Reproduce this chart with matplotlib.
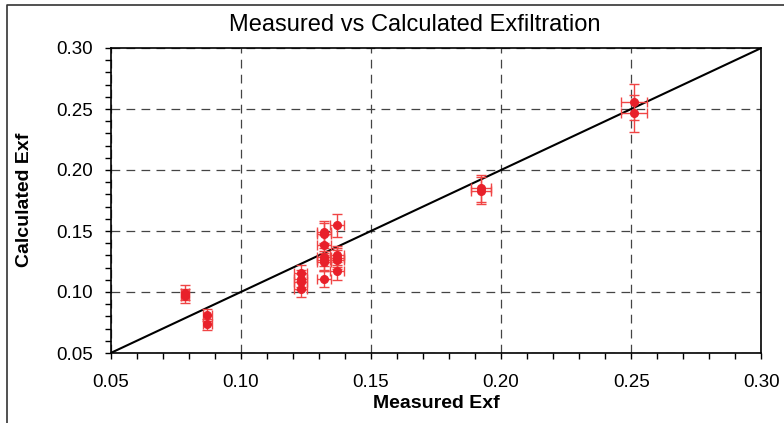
import matplotlib
matplotlib.use("Agg")
import matplotlib.pyplot as plt
from matplotlib.lines import Line2D
from matplotlib.ticker import MultipleLocator, FormatStrFormatter

plt.rcParams['font.family'] = ['Liberation Sans', 'DejaVu Sans']

# Data
measured = [0.0786, 0.0786, 0.0871, 0.0871,
            0.1231, 0.1231, 0.1231, 0.1231,
            0.1320, 0.1320, 0.1320, 0.1320, 0.1320, 0.1320, 0.1320,
            0.1369, 0.1369, 0.1369, 0.1369, 0.1369,
            0.1922, 0.1922,
            0.2511, 0.2511]
calculated = [0.0995, 0.0965, 0.0810, 0.0735,
              0.1155, 0.1110, 0.1080, 0.1025,
              0.1492, 0.1479, 0.1383, 0.1287, 0.1260, 0.1246, 0.1109,
              0.1547, 0.1300, 0.1282, 0.1265, 0.1172,
              0.1850, 0.1830,
              0.2557, 0.2464]
x_err = [0.0016, 0.0016, 0.0017, 0.0017,
         0.0025, 0.0025, 0.0025, 0.0025,
         0.0026, 0.0026, 0.0026, 0.0026, 0.0026, 0.0026, 0.0026,
         0.0027, 0.0027, 0.0027, 0.0027, 0.0027,
         0.0038, 0.0038,
         0.0050, 0.0050]
y_err = [0.0060, 0.0058, 0.0049, 0.0044,
         0.0069, 0.0067, 0.0065, 0.0062,
         0.0090, 0.0089, 0.0083, 0.0077, 0.0076, 0.0075, 0.0067,
         0.0093, 0.0078, 0.0077, 0.0076, 0.0070,
         0.0111, 0.0110,
         0.0150, 0.0150]
line_x = [0.05, 0.30]
line_y = [0.05, 0.30]
major_ticks = [0.05, 0.10, 0.15, 0.20, 0.25, 0.30]

title = "Measured vs Calculated Exfiltration"
xlabel = "Measured Exf"
ylabel = "Calculated Exf"

W, H = 784, 423
fig = plt.figure(figsize=(W / 100, H / 100), dpi=100)
ax = fig.add_axes([110.7 / W, 1 - 353 / H, (761.3 - 110.7) / W, (353 - 48) / H])

ax.set_xlim(0.05, 0.30)
ax.set_ylim(0.05, 0.30)
ax.set_xticks(major_ticks)
ax.set_yticks(major_ticks)
ax.xaxis.set_minor_locator(MultipleLocator(0.01))
ax.yaxis.set_minor_locator(MultipleLocator(0.01))
ax.xaxis.set_major_formatter(FormatStrFormatter('%.2f'))
ax.yaxis.set_major_formatter(FormatStrFormatter('%.2f'))
ax.tick_params(which='both', direction='out', color='black', width=1.0)
ax.tick_params(which='major', length=4, labelsize=13.5, pad=9)
ax.tick_params(which='minor', length=4)
ax.tick_params(axis='x', which='major', pad=11)

ax.grid(True, which='major', color='#444444', linestyle=(0, (7, 5)), linewidth=0.9)
ax.set_axisbelow(True)
for s in ax.spines.values():
    s.set_color('black')
    s.set_linewidth(1.2)

ax.plot(line_x, line_y, color='black', linewidth=1.5, zorder=3)

ax.errorbar(measured, calculated, xerr=x_err, yerr=y_err, fmt='o',
            color='#e8202a', markersize=5.5, ecolor='#f04545',
            elinewidth=1.0, capsize=3.5, capthick=1.0, zorder=4)

fig.text(415 / W, 1 - 25 / H, title, ha='center', va='center', fontsize=17)
ax.set_xlabel(xlabel, fontsize=14, fontweight='bold', labelpad=3)
fig.text(25 / W, 1 - 200 / H, ylabel, rotation=90, ha='center', va='center',
         fontsize=14, fontweight='bold')

# outer frame
fig.add_artist(Line2D([7 / W, 7 / W, 1.0], [0.0, 1 - 5 / H, 1 - 5 / H],
                      transform=fig.transFigure, color='#333333', linewidth=1.2))

fig.savefig('out.png', dpi=100)
